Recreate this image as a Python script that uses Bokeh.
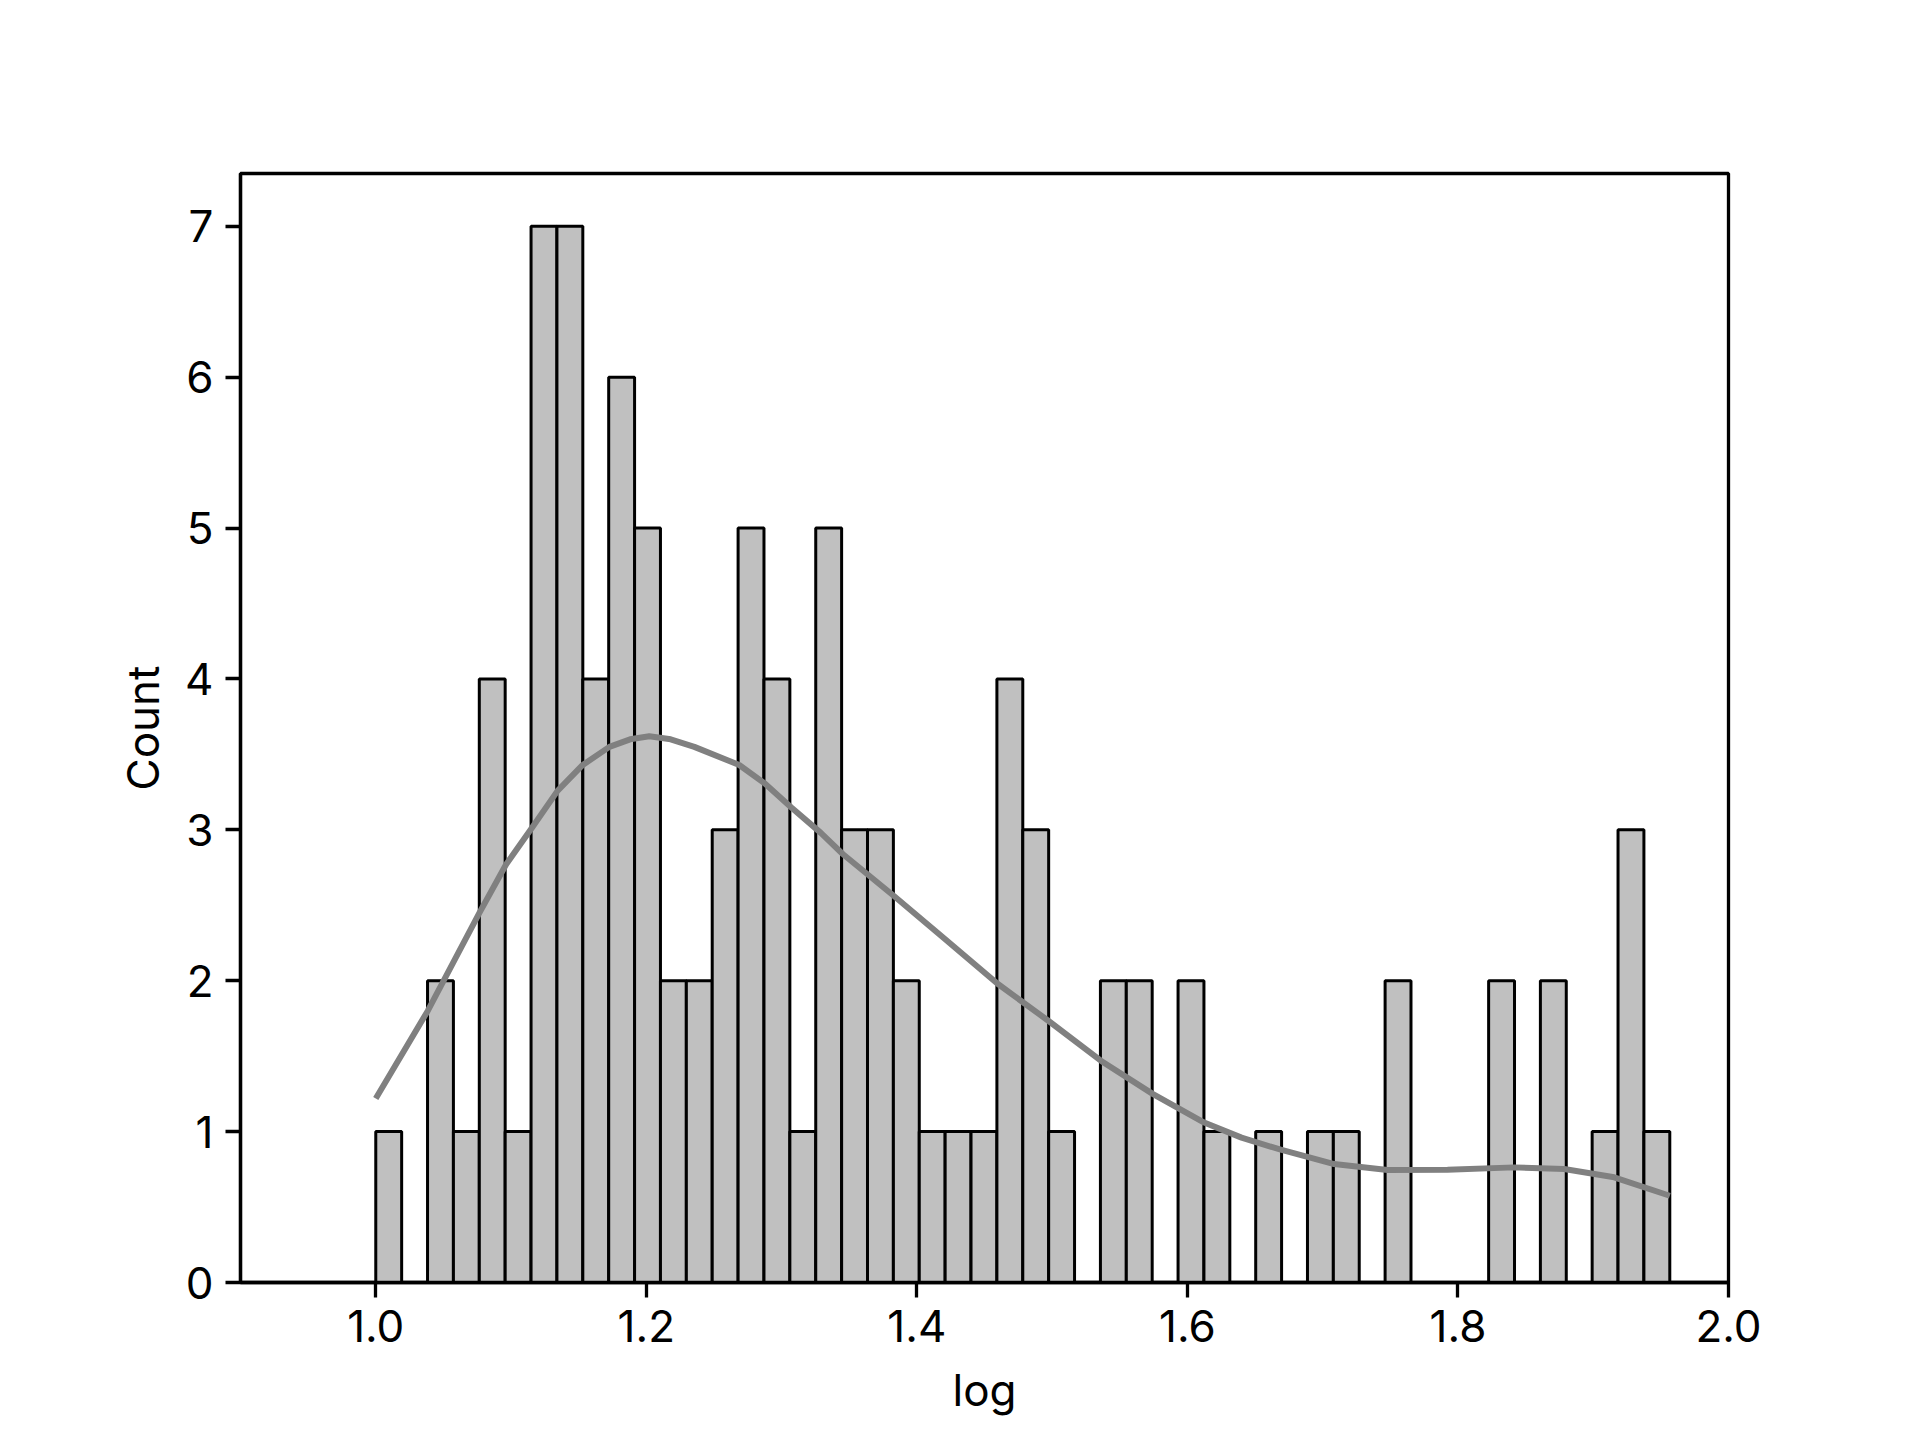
import numpy as np
from bokeh.plotting import figure
from bokeh.models import Range1d, FixedTicker, PrintfTickFormatter, ColumnDataSource
from bokeh.embed import file_html
from bokeh.resources import INLINE

# Histogram data (50 bins from 1.0 to ~1.9566)
bin_start = 1.0
bin_end = 1.9566
counts = [1, 0, 2, 1, 4, 1, 7, 7, 4, 6,
          5, 2, 2, 3, 5, 4, 1, 5, 3, 3,
          2, 1, 1, 1, 4, 3, 1, 0, 2, 2,
          0, 2, 1, 0, 1, 0, 1, 1, 0, 2,
          0, 0, 0, 2, 0, 2, 0, 1, 3, 1]

# KDE curve
kde_x = [1.000, 1.0384, 1.0766, 1.0963, 1.116, 1.1345, 1.153, 1.1727, 1.188, 1.2022,
         1.218, 1.2355, 1.2687, 1.2872, 1.307, 1.329, 1.3452, 1.3833, 1.4203, 1.4597,
         1.4979, 1.536, 1.5743, 1.6124, 1.64, 1.669, 1.7085, 1.748, 1.7923,
         1.8415, 1.8785, 1.9155, 1.9566]
kde_y = [1.22, 1.80, 2.45, 2.77, 3.02, 3.26, 3.43, 3.55, 3.60, 3.62,
         3.60, 3.55, 3.43, 3.31, 3.15, 2.98, 2.84, 2.56, 2.28, 1.98,
         1.73, 1.47, 1.25, 1.06, 0.96, 0.88, 0.785, 0.746, 0.748,
         0.763, 0.752, 0.697, 0.575]

x_ticks = [1.0, 1.2, 1.4, 1.6, 1.8, 2.0]
y_ticks = [0, 1, 2, 3, 4, 5, 6, 7]
x_label = "log"
y_label = "Count"

edges = np.linspace(bin_start, bin_end, len(counts) + 1)
src = ColumnDataSource(dict(left=edges[:-1], right=edges[1:], top=counts,
                            bottom=[0] * len(counts)))

FONT = "Inter"

p = figure(width=1904, height=1424, output_backend="svg", toolbar_location=None,
           x_range=Range1d(0.9, 2.0), y_range=Range1d(0, 7.35))
p.min_border_left = 240
p.min_border_right = 176
p.min_border_top = 173
p.min_border_bottom = 142

p.quad(left="left", right="right", top="top", bottom="bottom", source=src,
       fill_color="#c0c0c0", line_color="black", line_width=3)
p.line(kde_x, kde_y, line_color="#808080", line_width=6, line_join="round")

p.xgrid.visible = False
p.ygrid.visible = False
p.outline_line_color = "black"
p.outline_line_width = 3.3
p.outline_line_alpha = 1.0

for ax in (p.xaxis[0], p.yaxis[0]):
    ax.axis_line_color = "black"
    ax.axis_line_width = 3.3
    ax.major_tick_line_width = 3.3
    ax.major_tick_out = 15
    ax.major_tick_in = 0
    ax.minor_tick_out = 0
    ax.minor_tick_in = 0
    ax.major_label_text_font = FONT
    ax.major_label_text_font_size = "44px"
    ax.major_label_text_color = "black"
    ax.axis_label_text_font = FONT
    ax.axis_label_text_font_size = "44px"
    ax.axis_label_text_font_style = "normal"
    ax.axis_label_text_color = "black"
    ax.major_label_standoff = 12

p.xaxis.ticker = FixedTicker(ticks=x_ticks)
p.xaxis.formatter = PrintfTickFormatter(format="%.1f")
p.yaxis.ticker = FixedTicker(ticks=y_ticks)
p.xaxis.axis_label = x_label
p.yaxis.axis_label = y_label
p.xaxis.axis_label_standoff = 18
p.yaxis.axis_label_standoff = 12

p.background_fill_color = "white"
p.border_fill_color = "white"

open("out.html", "w").write(file_html(p, INLINE))
